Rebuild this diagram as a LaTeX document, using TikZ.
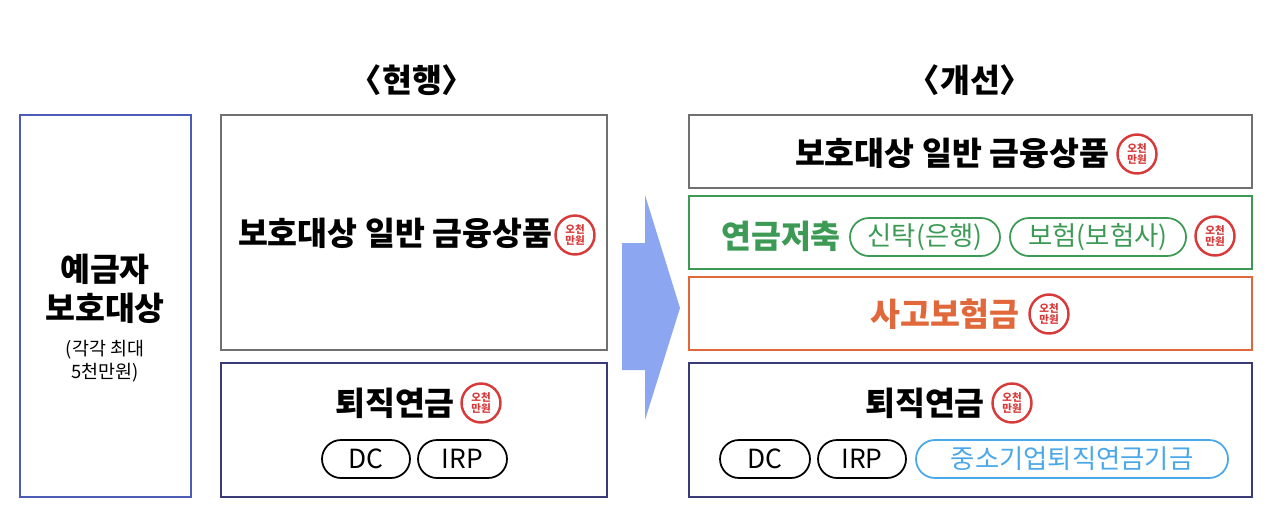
\documentclass[tikz,border=0pt]{standalone}
\usepackage{fontspec}
\setmainfont{Noto Sans CJK KR}
\usepackage{tikz}
\usetikzlibrary{positioning}
\definecolor{boxgray}{HTML}{707070}
\definecolor{boxblue}{HTML}{4A5CB4}
\definecolor{boxnavy}{HTML}{3A3A78}
\definecolor{boxgreen}{HTML}{3C9A55}
\definecolor{boxorange}{HTML}{E0683A}
\definecolor{pillblue}{HTML}{4AA8E8}
\definecolor{arrowblue}{HTML}{8CA6F2}
\definecolor{stampred}{HTML}{D83A3A}
\newcommand{\stamp}[2]{%
  \node[circle,draw=stampred,line width=1.4pt,fill=white,minimum size=0.78cm,inner sep=0pt,
    font=\fontsize{6}{6.5}\selectfont\bfseries,text=stampred,align=center] (#1) at #2 {오천\\만원};}
\tikzset{
  box/.style={draw,line width=1.4pt},
  pill/.style={draw,rounded corners=0.38cm,line width=1pt},
  pilltext/.style={font=\fontsize{15}{17}\selectfont},
  big/.style={font=\fontsize{18.5}{22}\selectfont\bfseries}
}
\begin{document}
\begin{tikzpicture}[x=0.02cm,y=-0.02cm]
\useasboundingbox (0,0) rectangle (1280,525);
% titles
\node[big] (tcur) at (412,80) {〈현행〉};
\node[big] (tnew) at (970,80) {〈개선〉};
% left box
\draw[box,draw=boxblue] (20,115) rectangle (191,497);
\node[big,align=center] (dep) at (105,289) {예금자\\보호대상};
\node[font=\fontsize{10.5}{13}\selectfont,align=center] (lim) at (105,361) {(각각 최대\\5천만원)};
% current
\draw[box,draw=boxgray] (221,115) rectangle (607,350);
\node[big] (cgen) at (395,233) {보호대상 일반 금융상품};
\stamp{s1}{(575,235)}
\draw[box,draw=boxnavy] (221,363) rectangle (607,497);
\node[big] (cret) at (395,403) {퇴직연금};
\stamp{s2}{(481,403)}
\draw[pill,draw=black] (322,440) rectangle (410,478) node[midway,pilltext] (dc1) {DC};
\draw[pill,draw=black] (418,440) rectangle (507,478) node[midway,pilltext] (irp1) {IRP};
% arrow
\fill[arrowblue] (622,243) -- (645,243) -- (645,195) -- (680,308) -- (645,420) -- (645,370) -- (622,370) -- cycle;
% improved
\draw[box,draw=boxgray] (689,115) rectangle (1252,188);
\node[big] (ngen) at (952,153) {보호대상 일반 금융상품};
\stamp{s3}{(1137,154)}
\draw[box,draw=boxgreen] (689,196) rectangle (1252,269);
\node[big,text=boxgreen] (sav) at (781,236) {연금저축};
\draw[pill,draw=boxgreen] (850,218) rectangle (1000,256) node[midway,text=boxgreen,pilltext] (tr) {신탁(은행)};
\draw[pill,draw=boxgreen] (1010,218) rectangle (1186,256) node[midway,text=boxgreen,pilltext] (ins) {보험(보험사)};
\stamp{s4}{(1215,236)}
\draw[box,draw=boxorange] (689,277) rectangle (1252,350);
\node[big,text=boxorange] (acc) at (945,314) {사고보험금};
\stamp{s5}{(1049,314)}
\draw[box,draw=boxnavy] (689,363) rectangle (1252,497);
\node[big] (nret) at (925,403) {퇴직연금};
\stamp{s6}{(1012,403)}
\draw[pill,draw=black] (720,440) rectangle (810,478) node[midway,pilltext] (dc2) {DC};
\draw[pill,draw=black] (818,440) rectangle (906,478) node[midway,pilltext] (irp2) {IRP};
\draw[pill,draw=pillblue] (916,440) rectangle (1228,478) node[midway,text=pillblue,pilltext] (sme) {중소기업퇴직연금기금};
\end{tikzpicture}
\end{document}
